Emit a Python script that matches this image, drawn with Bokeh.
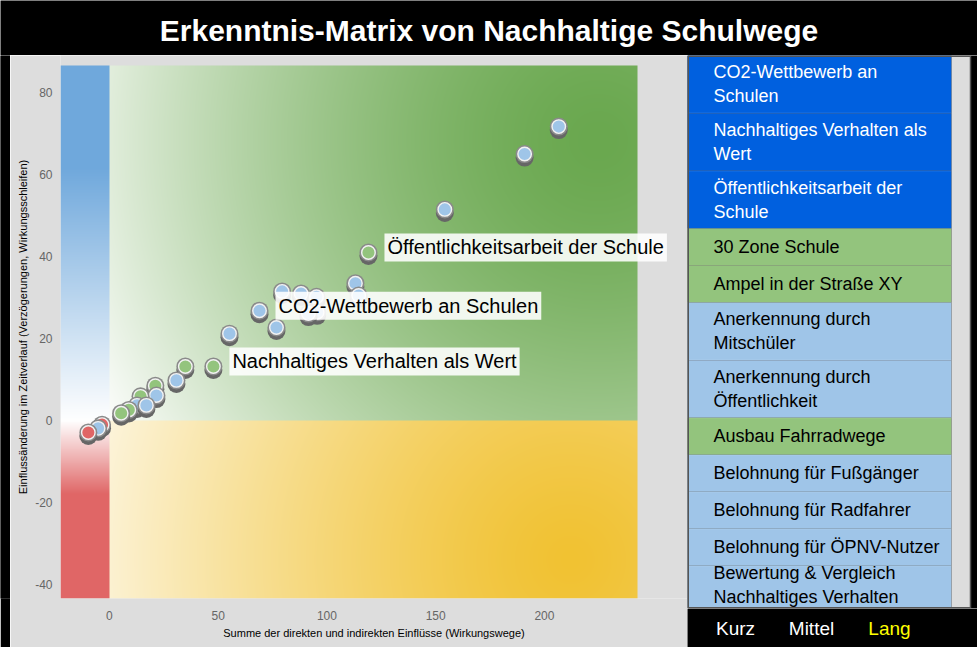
import numpy as np
from bokeh.plotting import figure
from bokeh.models import Range1d, FixedTicker, Label, ColumnDataSource
from bokeh.layouts import column, row
from bokeh.embed import file_html
from bokeh.resources import INLINE
from bokeh.transform import dodge
from bokeh.core.properties import value

# ---------------- data ----------------
title_text = "Erkenntnis-Matrix von Nachhaltige Schulwege"
x_axis_title = "Summe der direkten und indirekten Einflüsse (Wirkungswege)"
y_axis_title = "Einflussänderung im Zeitverlauf (Verzögerungen, Wirkungsschleifen)"

x_ticks = [0, 50, 100, 150, 200]
x_tick_labels = ["0", "50", "100", "150", "200"]
y_ticks = [-40, -20, 0, 20, 40, 60, 80]
y_tick_labels = ["-40", "-20", "0", "20", "40", "60", "80"]
x_lo, x_hi = -22.5, 242.8
y_lo, y_hi = -43.4, 86.6

point_x = [206.6, 190.9, 154.2, 119.1, 113.1, 114.6, 79.4, 88.1, 95.2, 95.5, 91.5,
           69.0, 76.8, 55.2, 47.8, 34.9, 30.8, 21.1, 21.6, 14.3, 12.7, 17.0, 8.9,
           5.4, -3.4, -5.2, -9.7]
point_y = [71.7, 65.0, 51.5, 41.0, 33.5, 30.5, 31.5, 31.0, 30.2, 26.4, 26.1,
           26.8, 22.7, 21.2, 13.2, 13.2, 9.8, 8.5, 6.1, 5.9, 3.7, 3.7, 2.6,
           1.8, -1.0, -1.9, -2.9]
point_group = ["blau", "blau", "blau", "grün", "blau", "blau", "blau", "blau", "blau",
               "blau", "blau", "blau", "blau", "blau", "grün", "grün", "blau", "grün",
               "blau", "grün", "blau", "blau", "grün", "grün", "rot", "blau", "rot"]
group_colors = {"blau": "#9fc5e8", "grün": "#93c47d", "rot": "#e06666"}

label_texts = ["Öffentlichkeitsarbeit der Schule", "CO2-Wettbewerb an Schulen",
               "Nachhaltiges Verhalten als Wert"]
label_point_index = [3, 11, 14]

legend_items = ["CO2-Wettbewerb an\nSchulen", "Nachhaltiges Verhalten als\nWert",
                "Öffentlichkeitsarbeit der\nSchule", "30 Zone Schule",
                "Ampel in der Straße XY", "Anerkennung durch\nMitschüler",
                "Anerkennung durch\nÖffentlichkeit", "Ausbau Fahrradwege",
                "Belohnung für Fußgänger", "Belohnung für Radfahrer",
                "Belohnung für ÖPNV-Nutzer", "Bewertung & Vergleich\nNachhaltiges Verhalten"]
legend_kind = ["aktiv", "aktiv", "aktiv", "grün", "grün", "blau", "blau", "grün",
               "blau", "blau", "blau", "blau"]
legend_fill = {"aktiv": "#0060df", "grün": "#93c47d", "blau": "#9fc5e8"}
legend_text_color = {"aktiv": "#ffffff", "grün": "#000000", "blau": "#000000"}

period_labels = ["Kurz", "Mittel", "Lang"]
period_colors = ["#ffffff", "#ffffff", "#ffff00"]

FONT = "Liberation Sans"
ROW_H = 592
BOTTOM_B = 49


def blank_fig(w, h, **kw):
    f = figure(width=w, height=h, output_backend="svg", toolbar_location=None,
               title=None, x_axis_location=None, y_axis_location=None,
               background_fill_color="black", border_fill_color="black",
               outline_line_color=None, **kw)
    f.grid.visible = False
    return f


# ---------------- title ----------------
t = blank_fig(977, 55, x_range=Range1d(0, 977), y_range=Range1d(0, 55), min_border=0)
t.text(x=[488.5], y=[25], text=[title_text], text_color="white",
       text_font=value(FONT), text_font_style="bold", text_font_size="30px",
       text_align="center", text_baseline="middle")

# ---------------- spacer ----------------
sp = blank_fig(10, ROW_H, x_range=Range1d(0, 1), y_range=Range1d(0, 1),
               min_border_left=0, min_border_right=0, min_border_top=0,
               min_border_bottom=BOTTOM_B)
sp.quad(left=[0], right=[1], bottom=[0], top=[1], fill_color="black", line_color=None)

# ---------------- chart ----------------
FW, FH = 577, 533
sx = FW / (x_hi - x_lo)
sy = FH / (y_hi - y_lo)
y_view_hi = y_hi + 10 / sy
x_view_hi = x_hi + 50 / sx
p = figure(width=677, height=ROW_H, x_range=Range1d(x_lo, x_view_hi),
           y_range=Range1d(y_lo, y_view_hi), title=None,
           output_backend="svg", toolbar_location=None,
           min_border_left=50, min_border_right=0, min_border_top=0,
           min_border_bottom=BOTTOM_B,
           background_fill_color="#dddddd", border_fill_color="#dddddd",
           outline_line_color=None)
p.grid.visible = False

# background gradient
xs = x_lo + (np.arange(FW) + 0.5) / sx
ys = y_lo + (np.arange(FH) + 0.5) / sy
X, Y = np.meshgrid(xs, ys)
W = np.array([255, 255, 255], float)
G = np.array([106, 168, 79], float)
Yc = np.array([241, 194, 50], float)
B = np.array([111, 168, 220], float)
R = np.array([224, 102, 102], float)


def lerp(c1, c2, tt):
    tt = tt[..., None]
    return c1 * (1 - tt) + c2 * tt


dg = np.hypot((X - 224.8) * sx, (Y - 68.3) * sy)
green = lerp(G, W, np.clip(dg / 570, 0, 1) ** 1.5)
dy_ = np.hypot((X - 212) * sx, (Y + 34) * sy)
yellow = lerp(Yc, W, np.clip(dy_ / 560, 0, 1) ** 1.3)
blue = lerp(W, B, np.clip(Y / 62, 0, 1))
red = lerp(W, R, np.clip(-Y / 18, 0, 1))
rgb = np.where(((X >= 0) & (Y >= 0))[..., None], green,
      np.where(((X >= 0) & (Y < 0))[..., None], yellow,
      np.where(((X < 0) & (Y >= 0))[..., None], blue, red)))
img = np.empty((FH, FW), dtype=np.uint32)
view = img.view(dtype=np.uint8).reshape((FH, FW, 4))
view[..., :3] = np.clip(rgb, 0, 255).astype(np.uint8)
view[..., 3] = 255
p.image_rgba(image=[img], x=x_lo, y=y_lo, dw=x_hi - x_lo, dh=y_hi - y_lo)

# points (lower points drawn last)
shadow_dy = 3.5 / sy
order = np.argsort(-np.array(point_y), kind="stable")
for i in order:
    src = ColumnDataSource(dict(x=[point_x[i]], y=[point_y[i]],
                                c=[group_colors[point_group[i]]]))
    p.scatter(x="x", y=dodge("y", -shadow_dy), source=src, size=18,
              fill_color="#666666", line_color=None)
    p.scatter(x="x", y="y", source=src, size=18, fill_color="#8a8a8a", line_color=None)
    p.scatter(x="x", y="y", source=src, size=13.5, fill_color="c",
              line_color="#f2f2f2", line_width=1.4)

for txt, idx in zip(label_texts, label_point_index):
    p.add_layout(Label(x=point_x[idx], y=point_y[idx], text=txt, x_offset=16, y_offset=5,
                       text_baseline="middle", text_font=FONT, text_font_size="20px",
                       text_color="black", background_fill_color="white",
                       background_fill_alpha=0.88, padding=3))

p.xaxis.ticker = FixedTicker(ticks=x_ticks)
p.yaxis.ticker = FixedTicker(ticks=y_ticks)
p.xaxis.major_label_overrides = dict(zip(x_ticks, x_tick_labels))
p.yaxis.major_label_overrides = dict(zip(y_ticks, y_tick_labels))
p.xaxis.axis_label = x_axis_title
p.yaxis.axis_label = y_axis_title
p.axis.axis_line_color = None
p.axis.major_tick_line_color = None
p.axis.minor_tick_line_color = None
p.axis.major_tick_out = 0
p.axis.major_tick_in = 0
p.axis.minor_tick_out = 0
p.axis.major_label_text_color = "#666666"
p.axis.major_label_text_font = FONT
p.axis.major_label_text_font_size = "12px"
p.xaxis.major_label_standoff = 12
p.yaxis.major_label_standoff = 8
p.axis.axis_label_text_font = FONT
p.axis.axis_label_text_font_style = "normal"
p.axis.axis_label_text_font_size = "11px"
p.axis.axis_label_text_color = "black"
p.xaxis.axis_label_standoff = 4
p.yaxis.axis_label_standoff = 3

# ---------------- legend panel ----------------
BAND_H = 39
panel_h = ROW_H - BAND_H
L = blank_fig(290, panel_h, x_range=Range1d(0, 290), y_range=Range1d(panel_h, 0),
              min_border=0)
n_lines = np.array([s.count("\n") + 1 for s in legend_items])
heights = 16.33 + 20.67 * n_lines
bottoms = np.cumsum(heights)
tops = bottoms - heights
line_px = 18 * 1.2
text_y = np.minimum((tops + bottoms) / 2, panel_h - 2 - n_lines * line_px / 2)
panel_w, bar_w = 264, 19
L.quad(left=0, right=panel_w, top=tops, bottom=bottoms,
       fill_color=[legend_fill[k] for k in legend_kind], line_color=None)
L.segment(x0=0, x1=panel_w, y0=bottoms[:-1], y1=bottoms[:-1],
          line_color="white", line_alpha=0.18, line_width=1)
L.text(x=26, y=text_y, text=legend_items,
       text_color=[legend_text_color[k] for k in legend_kind],
       text_font=value(FONT), text_font_size="18px", text_line_height=1.2,
       text_baseline="middle", text_align="left")
L.quad(left=panel_w, right=panel_w + bar_w, top=0, bottom=panel_h,
       fill_color="#dddddd", line_color=None)
L.quad(left=0.75, right=panel_w + bar_w, top=0.75, bottom=panel_h - 0.75,
       fill_alpha=0, line_color="#555555", line_width=1.5)

Bf = blank_fig(290, BAND_H, x_range=Range1d(0, 290), y_range=Range1d(0, BAND_H),
               min_border=0)
Bf.text(x=[48, 124, 202], y=BAND_H / 2, text=period_labels, text_color=period_colors,
        text_font=value(FONT), text_font_size="19px", text_align="center",
        text_baseline="middle")

layout = column(t, row(sp, p, column(L, Bf)))
open("out.html", "w").write(file_html(layout, INLINE))
